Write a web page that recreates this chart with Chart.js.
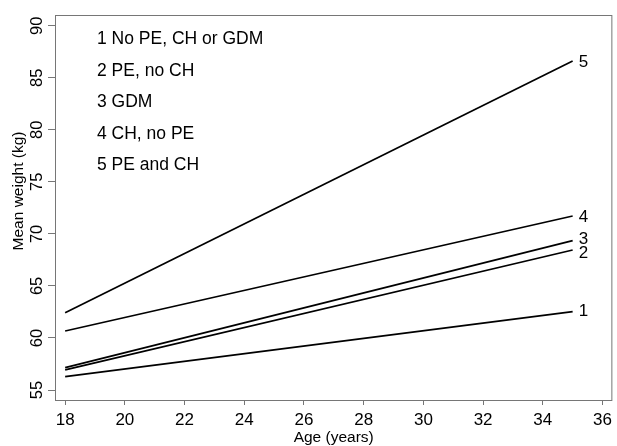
<!DOCTYPE html>
<html>
<head>
<meta charset="utf-8">
<script src="https://cdn.jsdelivr.net/npm/chart.js@4.4.1/dist/chart.umd.min.js"></script>
<style>
  html, body { margin: 0; padding: 0; background: #fff; }
  #wrap { width: 617px; height: 446px; }
</style>
</head>
<body>
<div id="wrap"><canvas id="chart" width="617" height="446"></canvas></div>
<script>
// Data
const ages = [18, 35];
const group1 = [56.28, 62.53];   // No PE, CH or GDM
const group2 = [56.93, 68.45];   // PE, no CH
const group3 = [57.15, 69.35];   // GDM
const group4 = [60.67, 71.72];   // CH, no PE
const group5 = [62.43, 86.60];   // PE and CH
const groupLabels = ['1 No PE, CH or GDM', '2 PE, no CH', '3 GDM', '4 CH, no PE', '5 PE and CH'];
const endLabels = ['1', '2', '3', '4', '5'];
const xTicks = [18, 20, 22, 24, 26, 28, 30, 32, 34, 36];
const yTicks = [55, 60, 65, 70, 75, 80, 85, 90];
const yTitle = 'Mean weight (kg)';
const xTitle = 'Age (years)';

const FONT = "'Liberation Sans', Arial, sans-serif";
const AXIS_GREY = '#767676';
const allSeries = [group1, group2, group3, group4, group5];
// small vertical nudges (px) for the end labels so 2 and 3 don't collide
const endLabelShift = [-2, 2, -3, 0, 0];

const toPoints = vals => ages.map((a, i) => ({ x: a, y: vals[i] }));

// Draws frame, rotated y tick labels, y title, legend text and line end labels
const annotate = {
    id: 'annotate',
    afterDraw(chart) {
        const { ctx, chartArea: area, scales } = chart;
        const xs = scales.x, ys = scales.y;
        ctx.save();

        // frame
        ctx.strokeStyle = AXIS_GREY;
        ctx.lineWidth = 1;
        ctx.strokeRect(area.left + 0.5, area.top + 0.5, area.right - area.left - 1, area.bottom - area.top);

        // y tick labels, rotated
        ctx.fillStyle = '#000';
        ctx.font = '16.5px ' + FONT;
        ctx.textAlign = 'center';
        ctx.textBaseline = 'alphabetic';
        yTicks.forEach(v => {
            const py = ys.getPixelForValue(v);
            ctx.save();
            ctx.translate(42, py);
            ctx.rotate(-Math.PI / 2);
            ctx.fillText(String(v), 0, 0);
            ctx.restore();
        });

        // y axis title (sits a bit above the middle of the axis, as in the source)
        ctx.font = '15.5px ' + FONT;
        ctx.save();
        ctx.translate(23, 191);
        ctx.rotate(-Math.PI / 2);
        ctx.fillText(yTitle, 0, 0);
        ctx.restore();

        // legend text block
        ctx.font = '17.5px ' + FONT;
        ctx.textAlign = 'left';
        groupLabels.forEach((txt, i) => {
            ctx.fillText(txt, area.left + 42, area.top + 29 + i * 31.5);
        });

        // numbers at the end of each line
        ctx.font = '17px ' + FONT;
        allSeries.forEach((vals, i) => {
            const px = xs.getPixelForValue(ages[ages.length - 1]) + 6;
            const py = ys.getPixelForValue(vals[vals.length - 1]) + endLabelShift[i];
            ctx.fillText(endLabels[i], px, py + 6);
        });

        ctx.restore();
    }
};

const ctx = document.getElementById('chart').getContext('2d');
const chart = new Chart(ctx, {
    type: 'line',
    data: {
        datasets: allSeries.map((vals, i) => ({
            label: groupLabels[i],
            data: toPoints(vals),
            borderColor: '#000',
            borderWidth: 1.7,
            pointRadius: 0,
            tension: 0,
            fill: false
        }))
    },
    options: {
        responsive: false,
        animation: false,
        events: [],
        layout: { padding: { top: 15, right: 2, left: 0, bottom: 0 } },
        plugins: {
            legend: { display: false },
            tooltip: { enabled: false }
        },
        scales: {
            x: {
                type: 'linear',
                min: 17.66,
                max: 36.33,
                afterBuildTicks: s => { s.ticks = xTicks.map(v => ({ value: v })); },
                afterFit: s => { s.height = 46; },
                border: { display: false },
                grid: { drawOnChartArea: false, drawTicks: true, tickLength: 5, color: AXIS_GREY },
                ticks: {
                    color: '#000',
                    padding: 5,
                    maxRotation: 0,
                    font: { family: FONT, size: 17 }
                },
                title: {
                    display: true,
                    text: xTitle,
                    color: '#000',
                    padding: { top: 0, bottom: 1 },
                    font: { family: FONT, size: 15.5, lineHeight: 1 }
                }
            },
            y: {
                type: 'linear',
                min: 54.04,
                max: 91.03,
                afterBuildTicks: s => { s.ticks = yTicks.map(v => ({ value: v })); },
                afterFit: s => { s.width = 55; },
                border: { display: false },
                grid: { drawOnChartArea: false, drawTicks: true, tickLength: 7, color: AXIS_GREY },
                ticks: { display: false },
                title: { display: false }
            }
        }
    },
    plugins: [annotate]
});
</script>
</body>
</html>
